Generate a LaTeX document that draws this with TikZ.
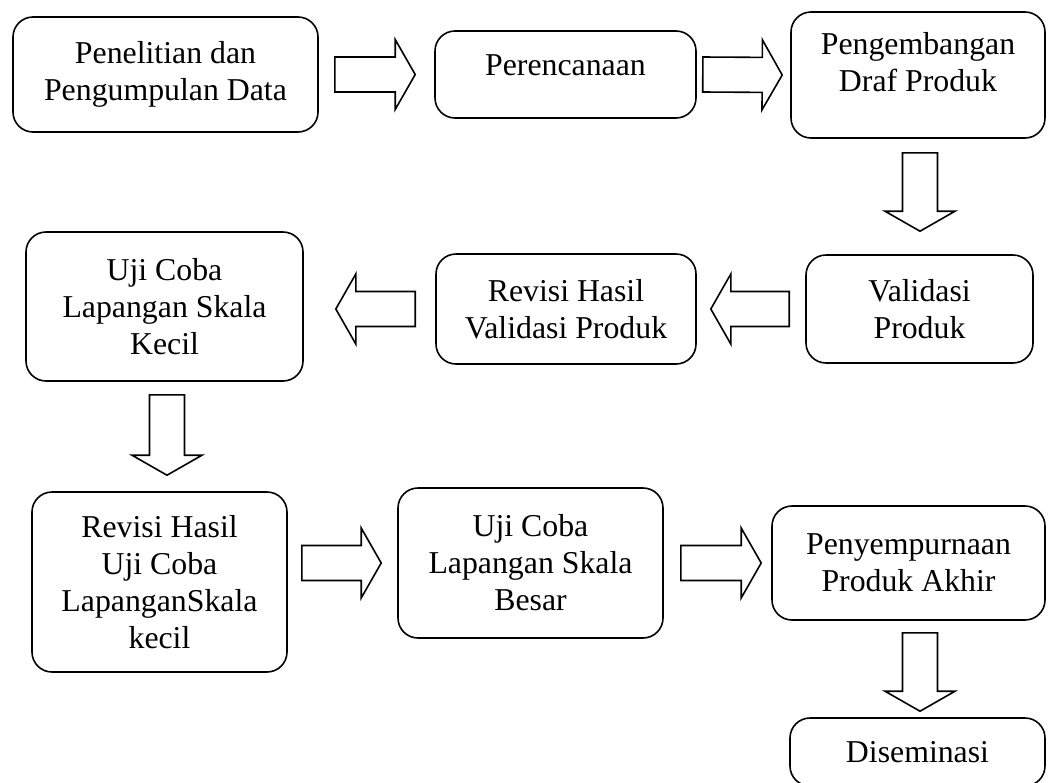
\documentclass[tikz,border=0pt]{standalone}
\usepackage{fontspec}
\setmainfont{Liberation Serif}
\usetikzlibrary{calc}

% invisible strut below the last line, moves the text up in its box
\newcommand{\dropdepth}[1]{\rule[-#1]{0pt}{0pt}}

% outlined block arrow from tail #1 to tip #2
\newcommand{\flowarrow}[2]{%
  \coordinate (ab) at ($(#2)!10pt!(#1)$);
  \draw[flow arrow] ($(#1)!8.75pt!90:(#2)$) -- ($(ab)!8.75pt!90:(#2)$)
    -- ($(ab)!17.5pt!90:(#2)$) -- (#2) -- ($(ab)!17.5pt!-90:(#2)$)
    -- ($(ab)!8.75pt!-90:(#2)$) -- ($(#1)!8.75pt!-90:(#2)$) -- cycle;
}

\begin{document}
\begin{tikzpicture}[x=0.5pt,y=-0.5pt,
    stage node/.style={draw,line width=0.8pt,rounded corners=10pt,align=center,
                       inner sep=0pt,font=\fontsize{15.9}{18.5}\selectfont},
    flow arrow/.style={draw,line width=0.8pt,fill=white,line join=miter}]

    \useasboundingbox (0,0) rectangle (1048,782);

    % top row
    \node[stage node, minimum width=152.5pt, minimum height=57.5pt] (b1) at (165.5,74.5) {Penelitian dan\\Pengumpulan Data};
    \node[stage node, minimum width=130.5pt, minimum height=43.5pt] (b2) at (565.5,74.5) {Perencanaan\dropdepth{9pt}};
    \node[stage node, minimum width=127pt, minimum height=63pt] (b3) at (918,75) {Pengembangan\\Draf Produk\dropdepth{13pt}};

    % middle row
    \node[stage node, minimum width=113.5pt, minimum height=54pt] (b4) at (919.5,309) {Validasi\\Produk};
    \node[stage node, minimum width=130pt, minimum height=55pt] (b5) at (566,309) {Revisi Hasil\\Validasi Produk};
    \node[stage node, minimum width=138.5pt, minimum height=74.5pt] (b6) at (164.5,306.5) {Uji Coba\\Lapangan Skala\\Kecil};

    % bottom row
    \node[stage node, minimum width=127.5pt, minimum height=90pt] (b7) at (159.5,582) {Revisi Hasil\\Uji Coba\\LapanganSkala\\kecil};
    \node[stage node, minimum width=132.5pt, minimum height=75pt] (b8) at (530.5,563) {Uji Coba\\Lapangan Skala\\Besar};
    \node[stage node, minimum width=136.5pt, minimum height=57pt] (b9) at (908.5,563) {Penyempurnaan\\Produk Akhir};
    \node[stage node, minimum width=127.5pt, minimum height=34pt] (b10) at (917.5,752) {Diseminasi};

    % arrow ends
    \coordinate (a1t) at ($(b1.east)+(16,0)$);
    \coordinate (a1h) at ($(b2.west)+(-19,0)$);
    \coordinate (a2t) at ($(b2.east)+(6,0)$);
    \coordinate (a2h) at ($(b3.west)+(-8,0)$);
    \coordinate (a3t) at ($(b3.south)+(2,14)$);
    \coordinate (a3h) at ($(b3.south |- b4.north)+(2,-23)$);
    \coordinate (a4t) at ($(b4.west)+(-16,0)$);
    \coordinate (a4h) at ($(b5.east)+(14,0)$);
    \coordinate (a5t) at ($(b5.west)+(-20,0)$);
    \coordinate (a5h) at ($(b6.east |- b5.west)+(32,0)$);
    \coordinate (a6t) at ($(b6.south)+(2.5,13)$);
    \coordinate (a6h) at ($(b6.south |- b7.north)+(2.5,-16)$);
    \coordinate (a7t) at ($(b7.east |- b8.west)+(14,0)$);
    \coordinate (a7h) at ($(b8.west)+(-16,0)$);
    \coordinate (a8t) at ($(b8.east)+(17,0)$);
    \coordinate (a8h) at ($(b9.west)+(-10,0)$);
    \coordinate (a9t) at ($(b10.north |- b9.south)+(2.5,12)$);
    \coordinate (a9h) at ($(b10.north)+(2.5,-6)$);

    \foreach \i in {1,...,9}
        \flowarrow{a\i t}{a\i h};
\end{tikzpicture}
\end{document}
